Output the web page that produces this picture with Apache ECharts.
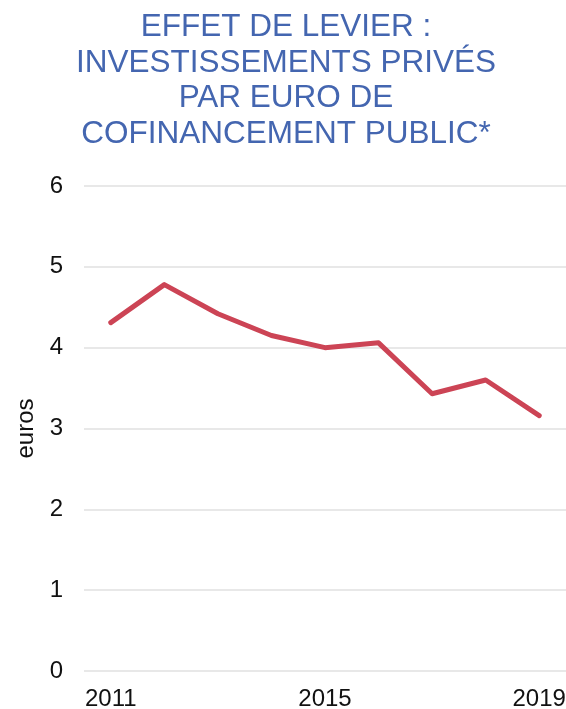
<!DOCTYPE html>
<html>
<head>
<meta charset="utf-8">
<script src="https://cdn.jsdelivr.net/npm/echarts@6/dist/echarts.min.js"></script>
<style>
  html, body { margin: 0; padding: 0; background: #fff; }
  #chart { width: 566px; height: 709px; }
</style>
</head>
<body>
<div id="chart"></div>
<script>
// données
var years = ['2011', '2012', '2013', '2014', '2015', '2016', '2017', '2018', '2019'];
var leverage = [4.31, 4.78, 4.42, 4.15, 4.00, 4.06, 3.43, 3.60, 3.16];
var titleLines = ['EFFET DE LEVIER :', 'INVESTISSEMENTS PRIVÉS', 'PAR EURO DE', 'COFINANCEMENT PUBLIC*'];

var myChart = echarts.init(document.getElementById('chart'));
var option = {
    animation: false,
    title: {
        text: titleLines.join('\n'),
        left: 286,
        top: 10,
        padding: 0,
        textAlign: 'center',
        textStyle: {
            color: '#4466b0',
            fontFamily: 'Liberation Sans',
            fontSize: 31.5,
            fontWeight: 'normal',
            lineHeight: 35.5
        }
    },
    grid: {
        left: 84,
        right: 0,
        top: 186,
        bottom: 38,
        containLabel: false,
        outerBoundsMode: 'none'
    },
    xAxis: {
        type: 'category',
        data: years,
        boundaryGap: true,
        axisLine: { show: false },
        axisTick: { show: false },
        axisLabel: {
            interval: 3,
            margin: 16,
            color: '#111',
            fontFamily: 'Liberation Sans',
            fontSize: 24
        }
    },
    yAxis: {
        type: 'value',
        min: 0,
        max: 6,
        interval: 1,
        name: 'euros',
        nameLocation: 'middle',
        nameGap: 42,
        nameTextStyle: {
            color: '#111',
            fontFamily: 'Liberation Sans',
            fontSize: 24
        },
        axisLine: { show: false },
        axisTick: { show: false },
        axisLabel: {
            margin: 21,
            color: '#111',
            fontFamily: 'Liberation Sans',
            fontSize: 24
        },
        splitLine: { lineStyle: { color: '#e0e0e0', width: 1.5 } }
    },
    series: [{
        type: 'line',
        data: leverage,
        symbol: 'none',
        lineStyle: { color: '#cc4455', width: 5, cap: 'round', join: 'round' }
    }]
};
myChart.setOption(option);
</script>
</body>
</html>
